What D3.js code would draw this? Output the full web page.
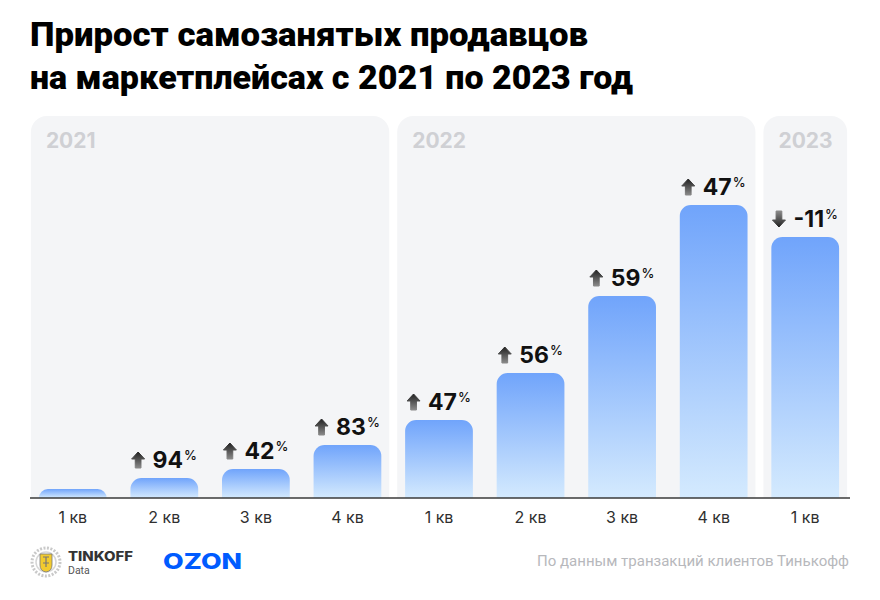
<!DOCTYPE html>
<html><head><meta charset="utf-8">
<script src="https://cdn.jsdelivr.net/npm/d3@7"></script>
<style>
html,body{margin:0;padding:0;background:#fff;}
svg{display:block;}
</style></head>
<body>
<svg id="chart" width="880" height="600"></svg>
<script>
// ---- data ----
const titleLines = ["Прирост самозанятых продавцов", "на маркетплейсах с 2021 по 2023 год"];
const years = ["2021", "2022", "2023"];
const quarters = ["1 кв", "2 кв", "3 кв", "4 кв", "1 кв", "2 кв", "3 кв", "4 кв", "1 кв"];
const quarterYear = ["2021", "2021", "2021", "2021", "2022", "2022", "2022", "2022", "2023"];
const values = [9, 20, 29, 53, 78, 125, 202, 293, 261];       // relative level
const growth = [null, 94, 42, 83, 47, 56, 59, 47, -11];       // quarter-over-quarter growth, %
const sourceText = "По данным транзакций клиентов Тинькофф";

const svg = d3.select("#chart");
const baseY = 498;

const idx = d3.range(quarters.length);
const x = d3.scaleBand().domain(idx).range([27, 851]).paddingInner(0.26).paddingOuter(0.13);
const y = d3.scaleLinear().domain([0, 300]).range([baseY, baseY - 300]);

const defs = svg.append("defs");
const bg = defs.append("linearGradient").attr("id", "barGrad").attr("x1", 0).attr("y1", 0).attr("x2", 0).attr("y2", 1);
bg.append("stop").attr("offset", "0%").attr("stop-color", "#70a4fb");
bg.append("stop").attr("offset", "100%").attr("stop-color", "#d4eafe");
const ag = defs.append("linearGradient").attr("id", "arrowGrad").attr("x1", 0).attr("y1", 0).attr("x2", 0).attr("y2", 1);
ag.append("stop").attr("offset", "0%").attr("stop-color", "#222");
ag.append("stop").attr("offset", "100%").attr("stop-color", "#8a8a8a");
const agd = defs.append("linearGradient").attr("id", "arrowGradDown").attr("x1", 0).attr("y1", 0).attr("x2", 0).attr("y2", 1);
agd.append("stop").attr("offset", "0%").attr("stop-color", "#8a8a8a");
agd.append("stop").attr("offset", "100%").attr("stop-color", "#222");

// ---- title ----
const titleFont = "Roboto, 'Noto Sans', sans-serif";
svg.append("text").attr("x", 30).attr("y", 46).attr("font-family", titleFont).attr("font-weight", 900)
  .attr("font-size", 32.5).attr("fill", "#000").attr("textLength", 558).attr("lengthAdjust", "spacingAndGlyphs")
  .text(titleLines[0]);
svg.append("text").attr("x", 30).attr("y", 89).attr("font-family", titleFont).attr("font-weight", 900)
  .attr("font-size", 32.5).attr("fill", "#000").attr("textLength", 603).attr("lengthAdjust", "spacingAndGlyphs")
  .text(titleLines[1]);

// ---- year panels ----
const panelTop = 116, r = 16;
years.forEach((yr) => {
  const members = idx.filter(i => quarterYear[i] === yr);
  const first = members[0], last = members[members.length - 1];
  const step = x.step();
  const left = first === 0 ? x(first) - 8 : x(first) - (step - x.bandwidth()) / 2 + 4;
  const right = last === idx.length - 1 ? x(last) + x.bandwidth() + 8 : x(last) + x.bandwidth() + (step - x.bandwidth()) / 2 - 4;
  const p = d3.path();
  p.moveTo(left, baseY);
  p.lineTo(left, panelTop + r);
  p.arcTo(left, panelTop, left + r, panelTop, r);
  p.lineTo(right - r, panelTop);
  p.arcTo(right, panelTop, right, panelTop + r, r);
  p.lineTo(right, baseY);
  p.closePath();
  svg.append("path").attr("d", p.toString()).attr("fill", "#f4f5f7");
  svg.append("text").attr("x", left + 15).attr("y", 148)
    .attr("font-family", "Inter, Roboto, sans-serif").attr("font-weight", 700).attr("font-size", 21)
    .attr("fill", "#cfd0d4").text(yr);
});

// ---- bars ----
const br = 11;
function barPath(i) {
  const x0 = x(i), x1 = x(i) + x.bandwidth(), top = y(values[i]), b = y(0);
  const rr = Math.min(br, (b - top));
  const p = d3.path();
  p.moveTo(x0, b);
  p.lineTo(x0, top + rr);
  p.arcTo(x0, top, x0 + rr, top, rr);
  p.lineTo(x1 - rr, top);
  p.arcTo(x1, top, x1, top + rr, rr);
  p.lineTo(x1, b);
  p.closePath();
  return p.toString();
}
svg.append("g").selectAll("path").data(idx).join("path")
  .attr("d", d => barPath(d)).attr("fill", "url(#barGrad)");

// ---- axis ----
svg.append("line").attr("x1", 30).attr("x2", 850).attr("y1", baseY).attr("y2", baseY)
  .attr("stroke", "#3a3a3a").attr("stroke-width", 1.5);

const xAxis = d3.axisBottom(x).tickSize(0).tickPadding(0).tickFormat(i => quarters[i]);
const ax = svg.append("g").attr("transform", `translate(0,${baseY})`).call(xAxis);
ax.select(".domain").remove();
ax.selectAll("text").attr("y", 25).attr("dy", 0)
  .attr("font-family", "Inter, Roboto, sans-serif").attr("font-size", 16).attr("fill", "#2f2f2f");

// ---- growth labels ----
const lblFont = "Inter, Roboto, sans-serif";
idx.forEach(i => {
  const g = growth[i];
  if (g === null) return;
  const cx = x(i) + x.bandwidth() / 2;
  const base = y(values[i]) - 10;
  const grp = svg.append("g");
  const num = grp.append("text").attr("font-family", lblFont).attr("font-weight", 700)
    .attr("font-size", 23).attr("fill", "#111").attr("y", base).text(g < 0 ? "-" + Math.abs(g) : String(g));
  const pct = grp.append("text").attr("font-family", lblFont).attr("font-weight", 500)
    .attr("font-size", 13).attr("fill", "#111").attr("y", base - 8).text("%");
  const nw = num.node().getComputedTextLength();
  const pw = pct.node().getComputedTextLength();
  const aw = 13, gap = 8;
  const total = aw + gap + nw + 1 + pw;
  const start = cx - total / 2;
  // arrow
  const ax0 = start, ah = 17, top = base - ah + 1;
  let pts;
  if (g >= 0) {
    pts = [[ax0 + aw / 2, top], [ax0 + aw, top + 7], [ax0 + aw * 0.72, top + 7], [ax0 + aw * 0.72, base],
           [ax0 + aw * 0.28, base], [ax0 + aw * 0.28, top + 7], [ax0, top + 7]];
  } else {
    pts = [[ax0 + aw * 0.28, top], [ax0 + aw * 0.72, top], [ax0 + aw * 0.72, base - 7], [ax0 + aw, base - 7],
           [ax0 + aw / 2, base], [ax0, base - 7], [ax0 + aw * 0.28, base - 7]];
  }
  grp.append("path").attr("d", d3.line()(pts) + "Z")
    .attr("fill", g >= 0 ? "url(#arrowGrad)" : "url(#arrowGradDown)")
    .attr("stroke", g >= 0 ? "url(#arrowGrad)" : "url(#arrowGradDown)").attr("stroke-width", 1).attr("stroke-linejoin", "round");
  num.attr("x", start + aw + gap);
  pct.attr("x", start + aw + gap + nw + 1);
});

// ---- footer ----
const logo = svg.append("g").attr("transform", "translate(46,562)");
logo.append("circle").attr("r", 14).attr("fill", "none").attr("stroke", "#c9c9c9").attr("stroke-width", 3).attr("stroke-dasharray", "2 1.5");
logo.append("circle").attr("r", 10).attr("fill", "none").attr("stroke", "#d6d6d6").attr("stroke-width", 1.5);
logo.append("path").attr("d", "M-6,-8 L6,-8 L6,3 Q6,9 0,10 Q-6,9 -6,3 Z").attr("fill", "#f2cb2f").attr("stroke", "#777").attr("stroke-width", 0.8);
logo.append("path").attr("d", "M-3,-5 L3,-5 M0,-5 L0,5 M-3,1 L3,1").attr("stroke", "#777").attr("stroke-width", 1.2);
svg.append("text").attr("x", 68).attr("y", 561).attr("font-family", "Inter, Roboto, sans-serif")
  .attr("font-weight", 800).attr("font-size", 13).attr("fill", "#333").attr("textLength", 65).attr("lengthAdjust", "spacingAndGlyphs").text("TINKOFF");
svg.append("text").attr("x", 68).attr("y", 574).attr("font-family", "Roboto, sans-serif")
  .attr("font-size", 10.5).attr("fill", "#555").text("Data");
svg.append("text").attr("x", 163).attr("y", 569).attr("font-family", "Inter, 'Open Sans', sans-serif")
  .attr("font-weight", 800).attr("font-size", 22).attr("fill", "#005bff")
  .attr("textLength", 79).attr("lengthAdjust", "spacingAndGlyphs").text("OZON");
svg.append("text").attr("x", 849).attr("y", 566).attr("text-anchor", "end")
  .attr("font-family", "Roboto, sans-serif").attr("font-size", 15).attr("fill", "#b7b8bc")
  .attr("textLength", 312).attr("lengthAdjust", "spacingAndGlyphs").text(sourceText);
</script>
</body></html>
